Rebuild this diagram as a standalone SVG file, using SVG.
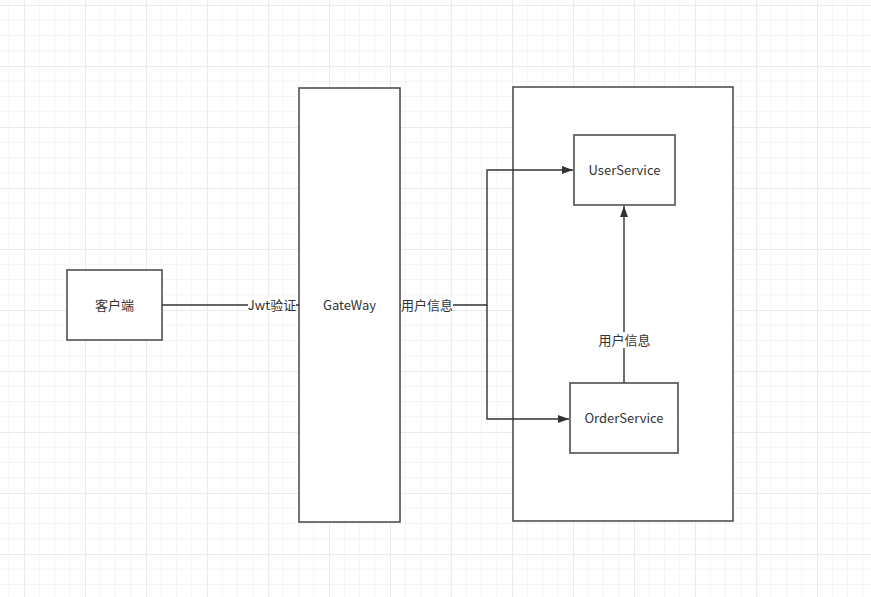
<svg xmlns="http://www.w3.org/2000/svg" width="871" height="597" viewBox="0 0 871 597">
<defs>
<pattern id="grid" x="24" y="5" width="61" height="61" patternUnits="userSpaceOnUse">
<path d="M15.25 0V61M30.5 0V61M45.75 0V61M0 15.25H61M0 30.5H61M0 45.75H61" stroke="#f4f4f4" stroke-width="1" fill="none"/>
<path d="M0.5 0V61M0 0.5H61" stroke="#ebebeb" stroke-width="1" fill="none"/>
</pattern>
<marker id="arr" viewBox="0 0 11 10" refX="11" refY="5" markerWidth="11" markerHeight="10" markerUnits="userSpaceOnUse" orient="auto">
<path d="M0 1L11 5L0 9Z" fill="#333"/>
</marker>
</defs>
<style>
.box{fill:#fff;stroke:#505050;stroke-width:1.6}
.lbl{font-family:"Noto Sans CJK SC","Liberation Sans",sans-serif;font-size:13px;fill:#333;text-anchor:middle;dominant-baseline:central}
.edge{fill:none;stroke:#333;stroke-width:1.4}
.bg{fill:#fff}
</style>
<rect width="871" height="597" fill="#fff"/>
<rect width="871" height="597" fill="url(#grid)"/>
<g id="container"><rect class="box" x="513" y="87" width="220" height="434"/></g>
<g id="client"><rect class="box" x="67" y="270" width="95" height="70"/><text class="lbl" x="114.5" y="304">客户端</text></g>
<g id="gateway"><rect class="box" x="299" y="88" width="101" height="434"/><text class="lbl" x="349.5" y="304">GateWay</text></g>
<g id="userservice"><rect class="box" x="574" y="135" width="101" height="70"/><text class="lbl" x="624.5" y="169">UserService</text></g>
<g id="orderservice"><rect class="box" x="570" y="383" width="108" height="70"/><text class="lbl" x="624" y="417">OrderService</text></g>
<g id="connectors">
<path class="edge" d="M162 305H299"/>
<rect class="bg" x="248" y="297" width="48" height="16"/>
<text class="lbl" x="272" y="304">Jwt验证</text>
<path class="edge" d="M400 305H487V170H573" marker-end="url(#arr)"/>
<path class="edge" d="M487 305V419H569" marker-end="url(#arr)"/>
<rect class="bg" x="401" y="297" width="52" height="16"/>
<text class="lbl" x="427" y="304">用户信息</text>
<path class="edge" d="M624 383V206" marker-end="url(#arr)"/>
<rect class="bg" x="598" y="332" width="53" height="16"/>
<text class="lbl" x="624.5" y="339">用户信息</text>
</g>
</svg>
